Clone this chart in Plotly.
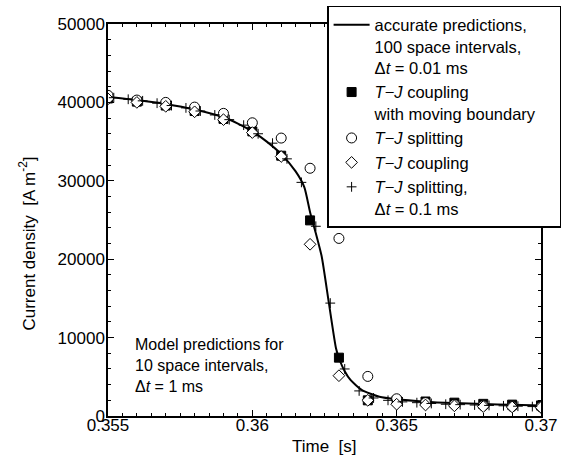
import plotly.graph_objects as go

# accurate solution (100 space intervals, dt = 0.01 ms)
t_acc = [0.355, 0.356, 0.357, 0.358, 0.359, 0.3595, 0.360, 0.3605, 0.361, 0.3615,
         0.3618, 0.362, 0.3622, 0.3624, 0.36265, 0.3629, 0.3630, 0.3632, 0.3634,
         0.3638, 0.3644, 0.365, 0.366, 0.367, 0.368, 0.369, 0.370]
j_acc = [40700, 40300, 39800, 39100, 38100, 37300, 36300, 35000, 33400, 31200,
         29200, 26000, 23300, 20400, 14450, 8600, 7400, 5700, 4600,
         3300, 2450, 2130, 1830, 1650, 1520, 1420, 1350]

# 10 space intervals, dt = 1 ms
t_1ms = [0.355, 0.356, 0.357, 0.358, 0.359, 0.360, 0.361, 0.362, 0.363, 0.364,
         0.365, 0.366, 0.367, 0.368, 0.369, 0.370]
j_moving = [40500, 40100, 39600, 38900, 37900, 36300, 33200, 24950, 7440, 2000,
            1950, 1850, 1700, 1550, 1450, 1350]
j_split = [40900, 40300, 40000, 39400, 38600, 37400, 35450, 31600, 22650, 5050,
           2200, 1700, 1450, 1300, 1200, 1150]
j_coupl = [40450, 40000, 39500, 38800, 37800, 36150, 33100, 21900, 5140, 2000,
           1500, 1400, 1300, 1200, 1150, 1100]

# T-J splitting, dt = 0.1 ms (every 5th step shown)
t_p = [0.3552, 0.3557, 0.3562, 0.3567, 0.3572, 0.3577, 0.3582, 0.3587, 0.3592,
       0.3597, 0.3602, 0.3607, 0.3612, 0.3617, 0.3622, 0.3627, 0.3632, 0.3637,
       0.3642, 0.3647, 0.3652, 0.3657, 0.3662, 0.3667, 0.3672, 0.3677, 0.3682,
       0.3687, 0.3692, 0.3697]
j_p = [40600, 40400, 40200, 39900, 39600, 39300, 38900, 38400, 37800,
       37100, 36000, 34800, 32800, 29800, 24200, 14400, 6000, 3200,
       2300, 2000, 1800, 1700, 1600, 1500, 1450, 1400, 1350,
       1300, 1250, 1200]

x_ticks = [0.355, 0.36, 0.365, 0.37]
x_tick_text = ["0.355", "0.36", "0.365", "0.37"]
y_ticks = [0, 10000, 20000, 30000, 40000, 50000]

FONT = "Arial, Liberation Sans, sans-serif"
NB = "\u00a0"

fig = go.Figure()
fig.add_trace(go.Scatter(
    x=t_acc, y=j_acc, mode="lines", line=dict(color="black", width=2, shape="spline", smoothing=0.6),
    name="accurate predictions,<br>100 space intervals,<br>Δ<i>t</i> = 0.01 ms", legendrank=1))
fig.add_trace(go.Scatter(
    x=t_1ms, y=j_moving, mode="markers",
    marker=dict(symbol="square", size=9, color="black", line=dict(color="black", width=1)),
    name="<i>T</i>−<i>J</i> coupling<br>with moving boundary" + NB * 4, legendrank=2))
fig.add_trace(go.Scatter(
    x=t_1ms, y=j_split, mode="markers",
    marker=dict(symbol="circle", size=10, color="white", line=dict(color="black", width=1)),
    name="<i>T</i>−<i>J</i> splitting", legendrank=3))
fig.add_trace(go.Scatter(
    x=t_1ms, y=j_coupl, mode="markers",
    marker=dict(symbol="diamond", size=9, color="white", line=dict(color="black", width=1)),
    name="<i>T</i>−<i>J</i> coupling", legendrank=4))
fig.add_trace(go.Scatter(
    x=t_p, y=j_p, mode="markers",
    marker=dict(symbol="cross-thin", size=7, color="black", line=dict(color="black", width=1)),
    name="<i>T</i>−<i>J</i> splitting,<br>Δ<i>t</i> = 0.1 ms", legendrank=5))

axis_common = dict(
    showline=True, linecolor="black", linewidth=1.5, mirror="ticks",
    ticks="inside", ticklen=6, tickwidth=1, tickcolor="black",
    showgrid=False, zeroline=False,
    tickfont=dict(family=FONT, size=17, color="black"),
)

fig.update_xaxes(
    range=[0.355, 0.37], tickvals=x_ticks, ticktext=x_tick_text, ticklabelstandoff=-7,
    minor=dict(dtick=0.0005, ticks="inside", ticklen=3, tickcolor="black", showgrid=False),
    **axis_common)
fig.update_yaxes(
    range=[0, 50000], tickvals=y_ticks, tickformat="d", ticklabelstandoff=-2,
    minor=dict(dtick=2000, ticks="inside", ticklen=3, tickcolor="black", showgrid=False),
    **axis_common)

fig.update_layout(
    width=563, height=464,
    margin=dict(l=108, r=22, t=24, b=48, autoexpand=False),
    paper_bgcolor="white", plot_bgcolor="white",
    font=dict(family=FONT, size=16, color="black"),
    showlegend=True,
    legend=dict(
        x=0.506, y=1.046, xanchor="left", yanchor="top",
        bgcolor="white", bordercolor="black", borderwidth=1.5,
        font=dict(family=FONT, size=16.5, color="black"),
        valign="top", itemwidth=36, tracegroupgap=4,
    ),
    annotations=[
        dict(text="Time  [s]", x=0.5, xref="paper", y=-0.079, yref="paper",
             xanchor="center", yanchor="middle", showarrow=False,
             font=dict(family=FONT, size=17, color="black")),
        dict(text="Current density  [A m<sup>-2</sup>]", x=-0.187, xref="paper",
             y=0.44, yref="paper", textangle=-90, xanchor="center", yanchor="middle",
             showarrow=False, font=dict(family=FONT, size=17, color="black")),
        dict(text="Model predictions for<br>10 space intervals,<br>Δ<i>t</i> = 1 ms",
             x=0.058, xref="paper", y=0.128, yref="paper", xanchor="left", yanchor="middle",
             align="left", showarrow=False,
             font=dict(family=FONT, size=16, color="black")),
    ],
)

fig.write_html("out.html", config={"displayModeBar": False},
               post_script="document.body.style.margin='0px';")
